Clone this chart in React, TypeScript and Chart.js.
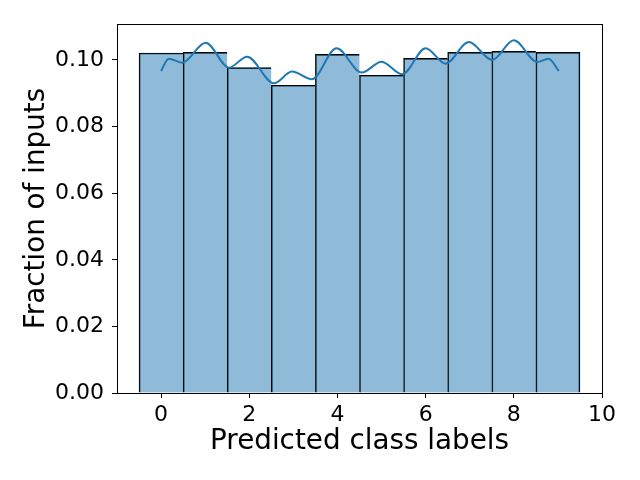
import React, { useEffect, useRef } from "react";
import { Chart, registerables } from "chart.js";

Chart.register(...registerables);

const binCenters = [0, 1, 2, 3, 4, 5, 6, 7, 8, 9];
const binHeights = [0.1021, 0.1023, 0.0977, 0.0924, 0.1017, 0.0954, 0.1005, 0.1023, 0.1026, 0.1023];

const kdeX = [0.0, 0.17, 0.48, 1.01, 1.54, 1.95, 2.56, 2.97, 3.42, 3.98, 4.55, 5.0, 5.47, 6.0, 6.45, 6.98, 7.51, 8.0, 8.53, 8.79, 9.02];
const kdeY = [0.0967, 0.1004, 0.0992, 0.1052, 0.0977, 0.1010, 0.0930, 0.0965, 0.0942, 0.1035, 0.0962, 0.0995, 0.0957, 0.1035, 0.0989, 0.1054, 0.1000, 0.1059, 0.0994, 0.1004, 0.0967];

const xTicks = [0, 2, 4, 6, 8, 10];
const yTicks = [0, 0.02, 0.04, 0.06, 0.08, 0.1];

const FONT = "'DejaVu Sans', sans-serif";

const framePlugin = {
  id: "frame",
  afterDraw(chart: any) {
    const { ctx, chartArea } = chart;
    ctx.save();
    ctx.strokeStyle = "#000";
    ctx.lineWidth = 1;
    ctx.strokeRect(
      Math.round(chartArea.left) + 0.5,
      Math.round(chartArea.top) + 0.5,
      Math.round(chartArea.right - chartArea.left),
      Math.round(chartArea.bottom - chartArea.top)
    );
    ctx.restore();
  },
};

export default function App() {
  const ref = useRef<HTMLCanvasElement>(null);
  useEffect(() => {
    const canvas = ref.current!;
    const last = binCenters.length - 1;
    const chart = new Chart(canvas, {
      type: "bar",
      data: {
        datasets: [
          {
            type: "line",
            data: kdeX.map((x, i) => ({ x, y: kdeY[i] })),
            borderColor: "#1f77b4",
            borderWidth: 2,
            pointRadius: 0,
            cubicInterpolationMode: "monotone",
            fill: false,
            order: 0,
          } as any,
          {
            type: "bar",
            data: binCenters.map((x, i) => ({ x, y: binHeights[i] })),
            backgroundColor: "rgba(31,119,180,0.5)",
            borderColor: "#000",
            borderWidth: (c: any) =>
              c.dataIndex === last
                ? { top: 1, left: 1, right: 1, bottom: 0 }
                : { top: 1, left: 1, right: 0, bottom: 0 },
            borderSkipped: false,
            barPercentage: 1,
            categoryPercentage: 1,
            order: 1,
          } as any,
        ],
      },
      options: {
        animation: false,
        responsive: false,
        maintainAspectRatio: false,
        layout: { padding: { top: 24, right: 38, left: 0, bottom: 0 } },
        plugins: { legend: { display: false }, tooltip: { enabled: false } },
        scales: {
          x: {
            type: "linear",
            min: -1,
            max: 10,
            offset: false,
            afterBuildTicks: (s: any) => {
              s.ticks = xTicks.map((v) => ({ value: v }));
            },
            afterFit: (s: any) => {
              s.height = 87;
            },
            grid: { offset: false, drawOnChartArea: false, drawTicks: true, tickLength: 5, color: "#000", tickWidth: 1 },
            border: { display: true, color: "#000", width: 1 },
            ticks: {
              color: "#000",
              font: { family: FONT, size: 22 },
              padding: 4,
              maxRotation: 0,
              callback: (v: any) => String(v),
            },
            title: {
              display: true,
              text: "Predicted class labels",
              color: "#000",
              font: { family: FONT, size: 27.8 },
              padding: { top: 0, bottom: 22 },
            },
          },
          y: {
            type: "linear",
            min: 0,
            max: 0.1108,
            afterBuildTicks: (s: any) => {
              s.ticks = yTicks.map((v) => ({ value: v }));
            },
            afterFit: (s: any) => {
              s.width = 117;
            },
            grid: { drawOnChartArea: false, drawTicks: true, tickLength: 5, color: "#000", tickWidth: 1 },
            border: { display: true, color: "#000", width: 1 },
            ticks: {
              color: "#000",
              font: { family: FONT, size: 22 },
              padding: 8,
              callback: (v: any) => Number(v).toFixed(2),
            },
            title: {
              display: true,
              text: "Fraction of inputs",
              color: "#000",
              font: { family: FONT, size: 27.8 },
              padding: { top: 20, bottom: 0 },
            },
          },
        },
      },
      plugins: [framePlugin],
    });
    return () => chart.destroy();
  }, []);
  return (
    <div style={{ position: "fixed", left: 0, top: 0, width: 640, height: 480, background: "#fff" }}>
      <canvas ref={ref} width={640} height={480} style={{ width: 640, height: 480 }} />
    </div>
  );
}
